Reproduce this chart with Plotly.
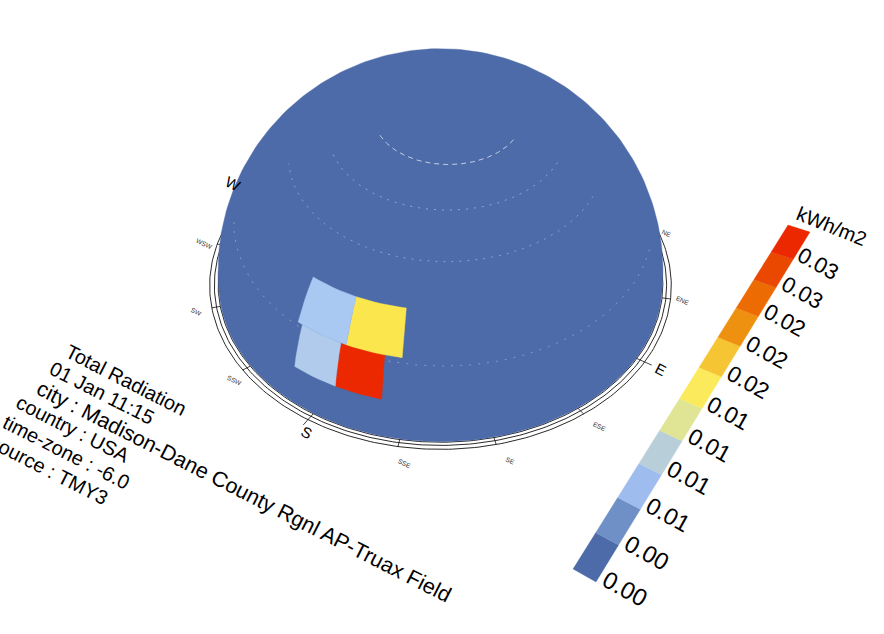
import numpy as np
import plotly.graph_objects as go

# ---- data
row_edges = [0, 12, 24, 36, 48, 60, 72, 84]
row_counts = [30, 30, 24, 24, 18, 12, 6]
hot_row = [1, 1, 2, 2]
hot_center = [168, 180, 165, 180]
hot_value = [0.030, 0.0078, 0.015, 0.0066]
hot_color = ["#ec2800", "#b1cbec", "#fce64e", "#a9c8f2"]
dome_color = "#4c6ba8"
legend_colors = ["#4c6ba8", "#6f90c7", "#9fbcee", "#b8cfda", "#e0e596", "#faea5c",
                 "#f6c533", "#ef9110", "#ec6c03", "#ea4700", "#ec2800"]
legend_labels = ["0.00", "0.00", "0.01", "0.01", "0.01", "0.01", "0.02", "0.02", "0.02", "0.03", "0.03"]
compass = ["N", "NNE", "NE", "ENE", "E", "ESE", "SE", "SSE", "S", "SSW", "SW", "WSW", "W", "WNW", "NW", "NNW"]
info_lines = ["Total Radiation", "01 Jan 11:15", "city : Madison-Dane County Rgnl AP-Truax Field",
              "country : USA", "time-zone : -6.0", "source : TMY3"]
seam_alt = [72, 60, 48, 24]
seam_az_from = [88, 83, 83, 73]
seam_az_to = [218, 223, 231, 236]
seam_dx = [8, 7, 6, 3]
seam_dy = [6, 4, 4, 6]
seam_alpha = [0.85, 0.5, 0.45, 0.4]
seam_dash = ["5px,4px", "2px,6px", "2px,6px", "2px,7px"]

# ---- view of the sky dome
CX, CY, S, TH, EL, D = 440.489, 271.128, 220.843, 147.789, 44.932, 8.288


def proj(az, alt, r=1.0):
    az, alt, th, el = np.radians(az), np.radians(alt), np.radians(TH), np.radians(EL)
    u = r*np.cos(alt)*np.sin(th-az)
    h = r*np.cos(alt)*np.cos(az-th)
    z = r*np.sin(alt)
    v = z*np.cos(el)-h*np.sin(el)
    w = z*np.sin(el)+h*np.cos(el)
    f = D/(D-w)
    return CX+S*f*u, CY-S*f*v


def hull(x, y):
    pts = sorted(set(zip(np.round(x, 2).tolist(), np.round(y, 2).tolist())))

    def half(seq):
        out = []
        for p in seq:
            while len(out) > 1 and ((out[-1][0]-out[-2][0])*(p[1]-out[-2][1])-(out[-1][1]-out[-2][1])*(p[0]-out[-2][0])) <= 0:
                out.pop()
            out.append(p)
        return out[:-1]
    h = half(pts)+half(pts[::-1])
    h.append(h[0])
    return [p[0] for p in h], [p[1] for p in h]


def patch(az0, az1, a0, a1):
    azs = np.linspace(az0, az1, int(abs(az1-az0)/2)+2)
    alts = np.linspace(a0, a1, 5)
    A = np.concatenate([azs, np.full(5, az1), azs[::-1], np.full(5, az0)])
    B = np.concatenate([np.full(len(azs), a0), alts, np.full(len(azs), a1), alts[::-1]])
    return proj(A, B)


fig = go.Figure()
# compass rings
for r in (1.003, 1.02, 1.041):
    t = np.linspace(0, 360, 361)
    x, y = proj(t, 0*t, r)
    fig.add_trace(go.Scatter(x=x, y=y, mode="lines", line=dict(color="#111", width=0.9), hoverinfo="skip"))
for i, name in enumerate(compass):
    az = i*22.5
    r_out = 1.075 if name in ("N", "E", "S", "W") else 1.041
    x, y = proj(np.array([az, az]), np.array([0, 0]), np.array([1.003, r_out]))
    fig.add_trace(go.Scatter(x=x, y=y, mode="lines", line=dict(color="#111", width=0.8), hoverinfo="skip"))

# dome
ga, gb = np.meshgrid(np.arange(0, 360, 2.0), np.arange(0, 91, 2.0))
gx, gy = proj(ga.ravel(), gb.ravel())
hx, hy = hull(gx, gy)
fig.add_trace(go.Scatter(x=hx, y=hy, mode="lines", fill="toself", fillcolor=dome_color,
                         line=dict(color=dome_color, width=0.4), hoverinfo="skip"))

# faint seams between rows of cells
for a, az0, az1, dxs, dys, alpha, dash in zip(seam_alt, seam_az_from, seam_az_to, seam_dx, seam_dy, seam_alpha, seam_dash):
    t = np.linspace(az0, az1, 120)
    x, y = proj(t, 0*t+a)
    fig.add_trace(go.Scatter(x=x+dxs, y=y+dys, mode="lines", hoverinfo="skip",
                             line=dict(color=f"rgba(255,255,255,{alpha})", width=0.8, dash=dash)))

# cells with radiation
for k, c, col in zip(hot_row, hot_center, hot_color):
    w = 360/row_counts[k]
    x, y = patch(c-w/2, c+w/2, row_edges[k], row_edges[k+1])
    fig.add_trace(go.Scatter(x=x, y=y, mode="lines", fill="toself", fillcolor=col,
                             line=dict(color=col, width=0.4), hoverinfo="skip"))

# legend strip
A0, A1 = np.array([573.0, 569.0]), np.array([788.0, 225.0])
B0, B1 = np.array([596.0, 582.0]), np.array([810.0, 232.0])
W = 1.18


def along(P0, P1, t):
    return ((1-t)*P0+t*W*P1)/((1-t)+t*W)


n = len(legend_colors)
for i, col in enumerate(legend_colors):
    a, b = along(A0, A1, i/n), along(A0, A1, (i+1)/n)
    c, d = along(B0, B1, (i+1)/n), along(B0, B1, i/n)
    fig.add_trace(go.Scatter(x=[a[0], b[0], c[0], d[0], a[0]], y=[a[1], b[1], c[1], d[1], a[1]], mode="lines",
                             fill="toself", fillcolor=col, line=dict(color=col, width=0.3), hoverinfo="skip"))

FONT = "Liberation Sans, Arial, sans-serif"
ann = []


def label(x, y, text, size, angle, color="#000"):
    ann.append(dict(x=x, y=y, xref="x", yref="y", text=text, showarrow=False, xanchor="center", yanchor="middle",
                    textangle=angle, font=dict(family=FONT, size=size, color=color), borderpad=0, borderwidth=0))


info_x = [126, 102, 244, 73, 66, 49]
info_y = [380, 393, 492, 429, 452, 470]
info_size = [20, 20, 21.5, 20, 20, 20]
for txt, x, y, sz in zip(info_lines, info_x, info_y, info_size):
    label(x, y, txt, sz, 27)
lab_x = [625, 647, 668, 689, 709, 728, 748, 767, 785, 802, 818]
lab_y = [588, 552, 515, 478, 445, 413, 382, 352, 320, 292, 263]
for i, (txt, x, y) in enumerate(zip(legend_labels, lab_x, lab_y)):
    label(x, y, txt, 24-0.2*i, 29)
label(831, 226, "kWh/m2", 20, 22)
comp_pos = {"E": (661, 369), "S": (307, 432), "W": (233, 183), "ENE": (683, 300), "NE": (667, 233), "ESE": (600, 426),
            "SE": (510, 460), "SSE": (405, 463), "SSW": (235, 380), "SW": (196, 311), "WSW": (204, 243)}
for name, (x, y) in comp_pos.items():
    if len(name) == 1:
        label(x, y, name, 15, 27)
    else:
        label(x, y, name, 6.5, 25, "#333")

fig.update_layout(width=884, height=634, margin=dict(l=0, r=0, t=0, b=0), showlegend=False,
                  paper_bgcolor="white", plot_bgcolor="white", annotations=ann,
                  xaxis=dict(range=[0, 884], visible=False, fixedrange=True),
                  yaxis=dict(range=[634, 0], visible=False, fixedrange=True))
fig.write_html("out.html", config={"displayModeBar": False},
               post_script="document.body.style.margin='0';document.body.style.overflow='hidden';")
